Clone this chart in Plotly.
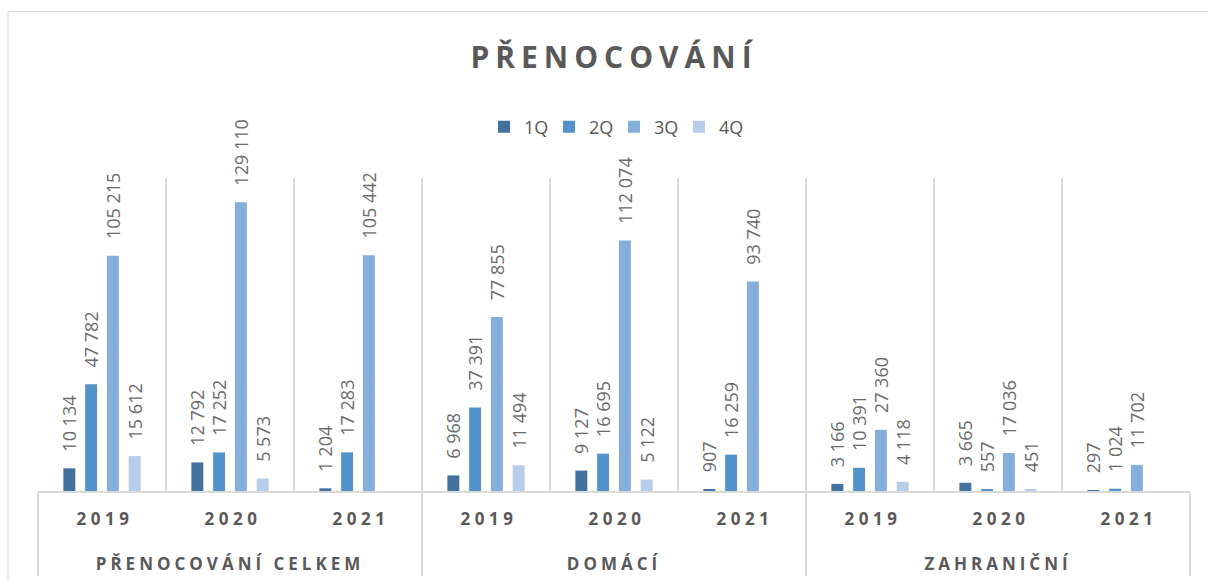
import plotly.graph_objects as go

# ---- data ----
groups = ["PŘENOCOVÁNÍ CELKEM", "DOMÁCÍ", "ZAHRANIČNÍ"]
years = ["2019", "2020", "2021"]
series_names = ["1Q", "2Q", "3Q", "4Q"]

# values per series, ordered group-major then year
q1 = [10134, 12792, 1204, 6968, 9127, 907, 3166, 3665, 297]
q2 = [47782, 17252, 17283, 37391, 16695, 16259, 10391, 557, 1024]
q3 = [105215, 129110, 105442, 77855, 112074, 93740, 27360, 17036, 11702]
q4 = [15612, 5573, None, 11494, 5122, None, 4118, 451, None]

colors = ["#44729F", "#5592C9", "#86AEDB", "#B7CDE8"]

FONT = "Open Sans"
GRAY = "#595959"
LINE = "#D9D9D9"


def spaced(s, px):
    return f"<span style='letter-spacing:{px}px'>{s}</span>"


PAD = "<span style='font-size:23px'>\u00a0</span>"

xg = []
xy = []
for g in groups:
    for y in years:
        xg.append("<br>" + spaced(g, 4))
        xy.append(PAD + spaced(y, 4.5))

fig = go.Figure()
for name, vals, col in zip(series_names, [q1, q2, q3, q4], colors):
    fig.add_trace(go.Bar(
        name=name,
        x=[xg, xy],
        y=vals,
        marker=dict(color=col, line=dict(width=0)),
        texttemplate="\u2002\u00a0%{y:,}",
        textposition="outside",
        textangle=-90,
        textfont=dict(family=FONT, size=18, color="#6b6b6b"),
        constraintext="none",
        cliponaxis=False,
    ))

fig.update_layout(
    width=1208, height=581,
    margin=dict(l=38, r=18, t=178, b=90, autoexpand=False),
    paper_bgcolor="white", plot_bgcolor="white",
    separators=". ",
    barmode="group",
    bargap=0.32,
    bargroupgap=0.45,
    title=dict(
        text=spaced("<b>PŘENOCOVÁNÍ</b>", 6),
        font=dict(family=FONT, size=30, color=GRAY),
        x=0.5, xref="paper", xanchor="center",
        y=1 - 57 / 581, yref="container", yanchor="middle",
    ),
    legend=dict(
        orientation="h",
        x=0.5, xanchor="center",
        y=(491 - 127) / 313, yanchor="middle",
        font=dict(family=FONT, size=18, color=GRAY),
        bgcolor="rgba(0,0,0,0)",
        entrywidth=20, entrywidthmode="pixels",
    ),
    font=dict(family=FONT, color=GRAY),
    xaxis=dict(
        type="multicategory",
        automargin=False,
        tickson="boundaries",
        showgrid=True, gridcolor=LINE, gridwidth=1.5,
        showline=True, linecolor=LINE, linewidth=2,
        showdividers=True, dividercolor=LINE, dividerwidth=2,
        ticks="",
        ticklabelstandoff=12,
        tickfont=dict(family=FONT, size=17, color=GRAY, weight="bold"),
    ),
    yaxis=dict(visible=False, range=[0, 140000], showgrid=False, automargin=False),
    shapes=[dict(
        type="rect", xref="paper", yref="paper",
        x0=(8 - 38) / 1152, x1=1.2,
        y0=-0.5, y1=(491 - 11.5) / 313,
        line=dict(color=LINE, width=1), fillcolor="rgba(0,0,0,0)",
        layer="below",
    )],
)

fig.write_html("out.html", config={"displayModeBar": False},
               post_script="document.body.style.margin='0';")
